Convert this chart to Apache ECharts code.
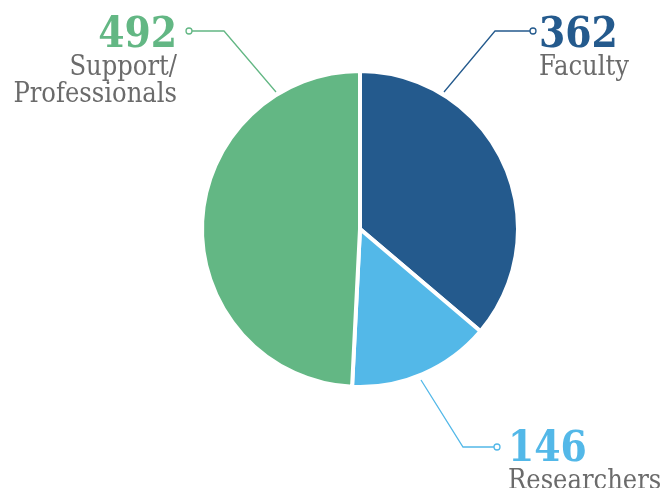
<!DOCTYPE html>
<html>
<head>
<meta charset="utf-8">
<script src="https://cdn.jsdelivr.net/npm/echarts@6/dist/echarts.min.js"></script>
<style>html,body{margin:0;padding:0;background:#fff}#c{width:665px;height:488px}</style>
</head>
<body>
<div id="c"></div>
<script>
const categories = ['Faculty', 'Researchers', 'Support/\nProfessionals'];
const values = [362, 146, 492];
const colors = ['#245a8d', '#53b8e8', '#63b784'];

const FONT = '"DejaVu Serif Condensed", "DejaVu Serif", serif';

// label anchor layout per slice
const layouts = [
  { x: 539, y: 19, align: 'left', pts: [[444, 92], [495, 31], [530, 31]] },
  { x: 508, y: 433, align: 'left', pts: [[421, 380], [463, 447], [494, 447]] },
  { x: 177, y: 19, align: 'right', pts: [[276, 92], [224, 31], [192, 31]] }
];

const chart = echarts.init(document.getElementById('c'));
chart.setOption({
  animation: false,
  graphic: layouts.map((l, i) => {
    const p = l.pts[2];
    return {
      type: 'circle',
      shape: { cx: p[0] + (l.align === 'left' ? 3 : -3), cy: p[1], r: 3 },
      style: { fill: '#fff', stroke: colors[i], lineWidth: 1.3 },
      z: 100
    };
  }),
  series: [{
    type: 'pie',
    center: [360, 229],
    radius: [0, 158],
    startAngle: 90,
    clockwise: true,
    itemStyle: { borderColor: '#fff', borderWidth: 4 },
    data: categories.map((c, i) => ({
      name: c,
      value: values[i],
      itemStyle: { color: colors[i] },
      label: {
        rich: {
          n: { fontFamily: FONT, fontWeight: 'bold', fontSize: 42, color: colors[i], lineHeight: 35 },
          t: { fontFamily: FONT, fontSize: 27, color: '#6b6b6b', lineHeight: 27 }
        }
      },
      labelLine: { lineStyle: { color: colors[i], width: 1.3 } }
    })),
    label: {
      show: true,
      overflow: 'none',
      formatter: p => '{n|' + p.value + '}\n{t|' + p.name.split('\n').join('}\n{t|') + '}'
    },
    labelLine: { show: true, smooth: false },
    labelLayout: function (params) {
      const l = layouts[params.dataIndex];
      return {
        x: l.x,
        y: l.y,
        align: l.align,
        verticalAlign: 'top',
        labelLinePoints: l.pts
      };
    },
    emphasis: { disabled: true }
  }]
});
</script>
</body>
</html>
